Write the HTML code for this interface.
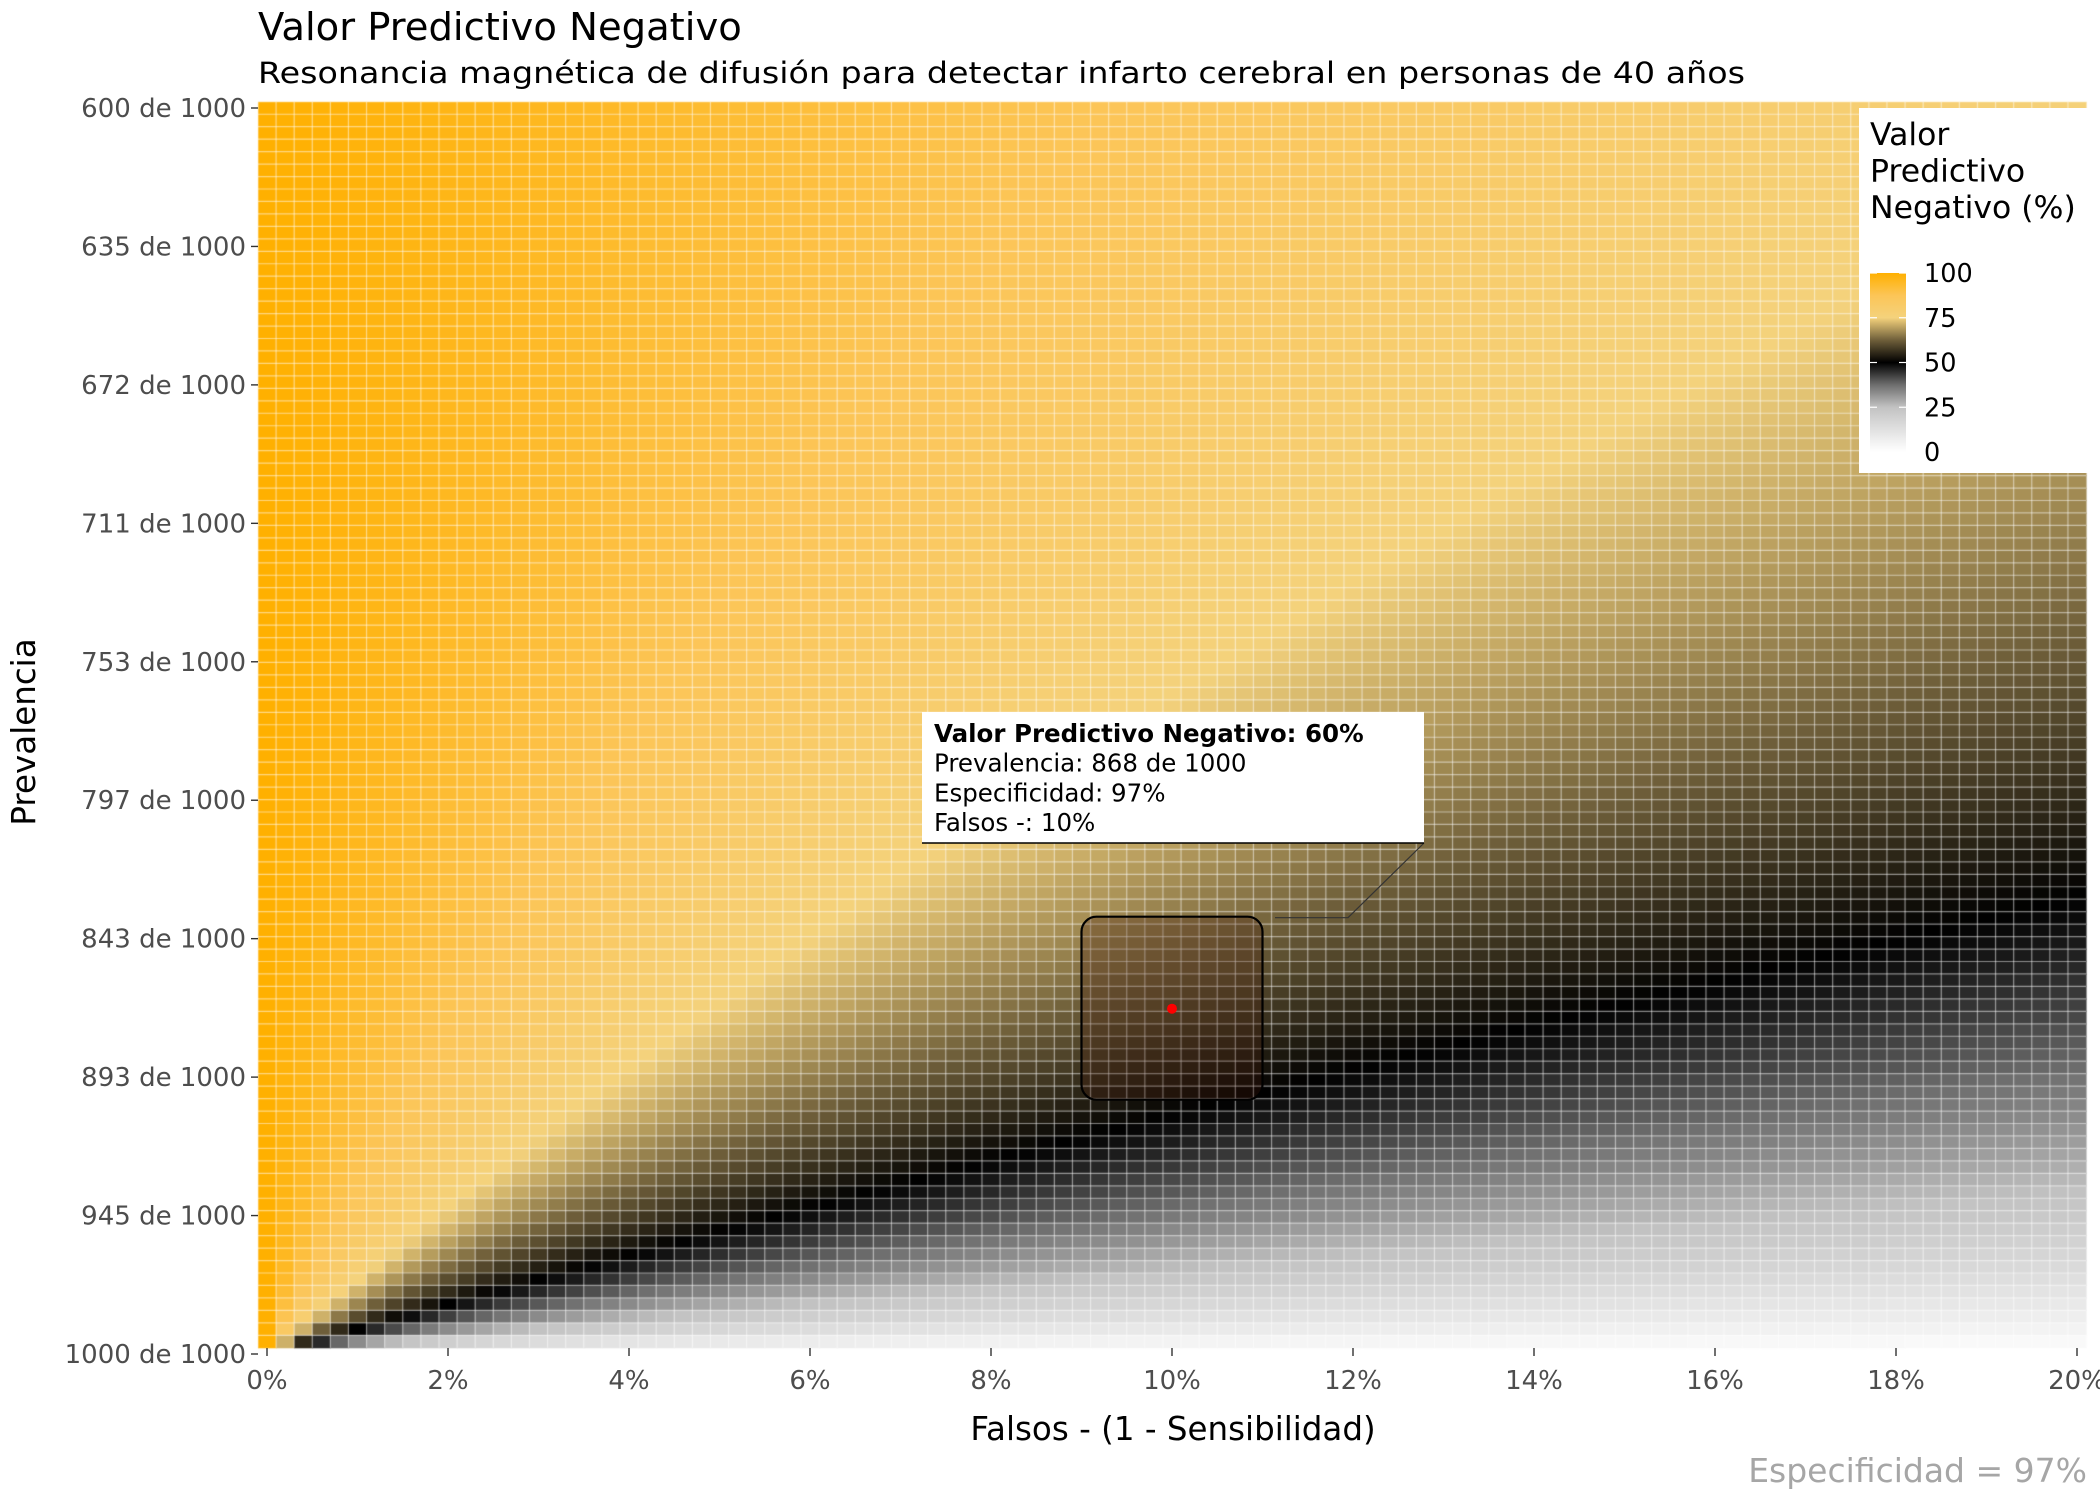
<!DOCTYPE html>
<html><head><meta charset="utf-8"><style>
html,body{margin:0;padding:0;background:#fff;}
#wrap{position:relative;width:2100px;height:1500px;overflow:hidden;font-family:"DejaVu Sans","Liberation Sans",sans-serif;}
canvas,svg{position:absolute;left:0;top:0;}
</style></head><body>
<div id="wrap">
<canvas id="cv" width="2100" height="1500"></canvas>
<svg id="sv" width="2100" height="1500" xmlns="http://www.w3.org/2000/svg"></svg>
</div>
<script>
// ---- data ----
const especificidad = 0.97;
const falsosNegCats = [];          // % values, 0..20 step 0.2
for (let i = 0; i <= 100; i++) falsosNegCats.push(+(i * 0.2).toFixed(1));
const prevTParams = [];            // position along log prevalence scale
for (let k = 0; k < 100; k++) prevTParams.push(k / 100);
const prevMin = 600, prevMax = 1000;
const yTickLabels = ["600 de 1000","635 de 1000","672 de 1000","711 de 1000","753 de 1000","797 de 1000","843 de 1000","893 de 1000","945 de 1000","1000 de 1000"];
const xTickValues = [0,2,4,6,8,10,12,14,16,18,20];
const legendValues = [100,75,50,25,0];
const highlightFN = [10];
const highlightPrev = [868];

// ---- scales ----
const X0 = 267, XSTEP = 90.5;        // px per 1%
const Y0 = 108, YSPAN = 1246;
function xScale(fn){ return X0 + fn * XSTEP; }
function tOfPrev(p){ return Math.log(p/prevMin)/Math.log(prevMax/prevMin); }
function yScale(t){ return Y0 + t * YSPAN; }
function prevOfT(t){ return prevMin * Math.pow(prevMax/prevMin, t); }
function npv(fn, prev){ const p = prev/1000, f = fn/100; const a = especificidad*(1-p); return 100*a/(a + f*p); }

const stops = [[0,[255,255,255]],[25,[194,194,194]],[37.5,[110,110,110]],[50,[0,0,0]],[62.5,[111,95,58]],[75,[244,210,124]],[87.5,[252,197,87]],[100,[255,176,0]]];
function col(v){
  if (v <= 0) return 'rgb(255,255,255)';
  for (let i = 1; i < stops.length; i++) {
    if (v <= stops[i][0]) {
      const a = stops[i-1], b = stops[i], r = (v - a[0])/(b[0]-a[0]);
      const c = a[1].map((x,j)=>Math.round(x + (b[1][j]-x)*r));
      return 'rgb('+c.join(',')+')';
    }
  }
  return 'rgb(255,176,0)';
}

// ---- heatmap ----
const cv = document.getElementById('cv'), ctx = cv.getContext('2d');
const cw = XSTEP*0.2, ch = YSPAN/100;
prevTParams.forEach(t => {
  const prev = prevOfT(t);
  falsosNegCats.forEach(fn => {
    ctx.fillStyle = col(npv(fn, prev));
    ctx.fillRect(xScale(fn)-cw/2, yScale(t)-ch/2, cw+0.5, ch+0.5);
  });
});
ctx.strokeStyle = 'rgba(255,255,255,0.5)'; ctx.lineWidth = 1.2;
const panelLeft = xScale(0)-cw/2, panelRight = xScale(20)+cw/2, panelTop = yScale(0)-ch/2, panelBot = yScale(0.99)+ch/2;
falsosNegCats.forEach(fn => { const x = xScale(fn)-cw/2; ctx.beginPath(); ctx.moveTo(x,panelTop); ctx.lineTo(x,panelBot); ctx.stroke(); });
prevTParams.forEach(t => { const y = yScale(t)-ch/2; ctx.beginPath(); ctx.moveTo(panelLeft,y); ctx.lineTo(panelRight,y); ctx.stroke(); });

// ---- svg overlay ----
const NS = 'http://www.w3.org/2000/svg', sv = document.getElementById('sv');
function el(tag, attrs, parent){ const n = document.createElementNS(NS, tag); for (const k in attrs) n.setAttribute(k, attrs[k]); (parent||sv).appendChild(n); return n; }
function txt(s, attrs){ const n = el('text', attrs); n.textContent = s; return n; }

let e;
e = txt('Valor Predictivo Negativo', {x:258, y:40, 'font-size':38.5, fill:'#000'});


e = txt('Resonancia magnética de difusión para detectar infarto cerebral en personas de 40 años', {x:258, y:83, 'font-size':29, fill:'#000', textLength:1487, lengthAdjust:'spacingAndGlyphs'});



yTickLabels.forEach((lab, j) => {
  const y = yScale(j/9);
  const tk = el('line', {x1:251, x2:258, y1:y, y2:y, stroke:'#333', 'stroke-width':1.4});
  
  
  const t = txt(lab, {x:246, y:y+9, 'font-size':26, fill:'#4d4d4d', 'text-anchor':'end'});
  
  
});
xTickValues.forEach(v => {
  const x = xScale(v);
  const tk = el('line', {x1:x, x2:x, y1:1348, y2:1356, stroke:'#333', 'stroke-width':1.4});
  
  
  const t = txt(v+'%', {x:x, y:1389, 'font-size':26, fill:'#4d4d4d', 'text-anchor':'middle'});
  
  
});
e = txt('Falsos - (1 - Sensibilidad)', {x:1173, y:1440, 'font-size':32.5, fill:'#000', 'text-anchor':'middle'});


e = txt('Prevalencia', {x:0, y:0, 'font-size':32.5, fill:'#000', 'text-anchor':'middle', transform:'translate(35,732) rotate(-90)'});


e = txt('Especificidad = 97%', {x:2087, y:1482, 'font-size':33, fill:'#a6a6a6', 'text-anchor':'end'});



// legend
const lg = el('g', {});


el('rect', {x:1859, y:108, width:245, height:365, fill:'#fff'}, lg);
['Valor','Predictivo','Negativo (%)'].forEach((s,i)=>{
  const t=document.createElementNS(NS,'text'); t.setAttribute('x',1870); t.setAttribute('y',145+i*36.5); t.setAttribute('font-size',31.5); t.textContent=s;
  
  
  lg.appendChild(t);
});
const defs = el('defs', {});
const grad = el('linearGradient', {id:'lgrad', x1:0, y1:1, x2:0, y2:0}, defs);
stops.forEach(s => el('stop', {offset:(s[0])+'%', 'stop-color':'rgb('+s[1].join(',')+')'}, grad));
function ly(v){ return 452 - v/100*179; }
e = el('rect', {x:1870, y:ly(100), width:36, height:179, fill:'url(#lgrad)'}, lg);


legendValues.forEach(v => {
  const y = ly(v);
  el('line', {x1:1870, x2:1877, y1:y, y2:y, stroke:'#fff', 'stroke-width':1.2}, lg);
  el('line', {x1:1899, x2:1906, y1:y, y2:y, stroke:'#fff', 'stroke-width':1.2}, lg);
  const t = document.createElementNS(NS,'text'); t.setAttribute('x',1924); t.setAttribute('y',y+9); t.setAttribute('font-size',25.5); t.textContent=String(v);
  
  
  lg.appendChild(t);
});

// highlight
const hx = xScale(highlightFN[0]), hy = yScale(tOfPrev(highlightPrev[0]));
e = el('rect', {x:xScale(highlightFN[0]-1), y:hy-92, width:xScale(highlightFN[0]+1)-xScale(highlightFN[0]-1), height:183, rx:15, ry:15, fill:'rgba(70,25,10,0.28)', stroke:'#000', 'stroke-width':2.2});


e = el('circle', {cx:hx, cy:hy, r:5, fill:'#ff0000'});


e = el('polyline', {points:(hx+103)+','+(hy-91)+' '+(hx+176)+','+(hy-91)+' '+(1424)+','+(843), fill:'none', stroke:'#333', 'stroke-width':1.2});


const tip = el('g', {});


el('rect', {x:922, y:712, width:502, height:131, fill:'#fff'}, tip);
el('line', {x1:922, x2:1424, y1:843, y2:843, stroke:'#000', 'stroke-width':1.5}, tip);
[['Valor Predictivo Negativo: 60%',true],['Prevalencia: 868 de 1000',false],['Especificidad: 97%',false],['Falsos -: 10%',false]].forEach((l,i)=>{
  const t = document.createElementNS(NS,'text'); t.setAttribute('x',934); t.setAttribute('y',742+i*29.7); t.setAttribute('font-size',24.5);
  if (l[1]) t.setAttribute('font-weight','bold');
  t.textContent = l[0];
  
  
  tip.appendChild(t);
});
</script>
</body></html>
